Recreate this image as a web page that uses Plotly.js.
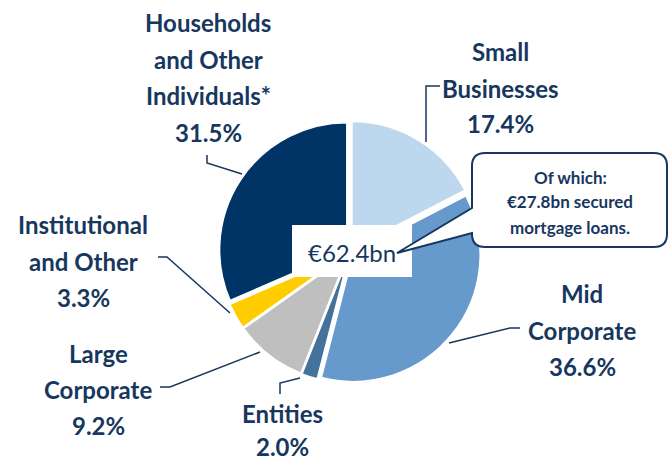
<!DOCTYPE html>
<html>
<head>
<meta charset="utf-8">
<script src="https://cdn.plot.ly/plotly-3.0.1.min.js"></script>
<style>html,body{margin:0;padding:0;background:#fff;}#chart{width:668px;height:464px;}</style>
</head>
<body>
<div id="chart"></div>
<script>
// Data
const categories = ["Small Businesses", "Mid Corporate", "Entities", "Large Corporate", "Institutional and Other", "Households and Other Individuals*"];
const shares = [17.4, 36.6, 2.0, 9.2, 3.3, 31.5];
const labelLines = [
  ["Small", "Businesses", "17.4%"],
  ["Mid", "Corporate", "36.6%"],
  ["Entities", "2.0%"],
  ["Large", "Corporate", "9.2%"],
  ["Institutional", "and Other", "3.3%"],
  ["Households", "and Other", "Individuals*", "31.5%"]
];
const totalLabel = "€62.4bn";
const calloutLines = ["Of which:", "€27.8bn secured", "mortgage loans."];
const colors = ["#BDD7EE", "#6699CC", "#44729A", "#BFBFBF", "#FFCC00", "#003366"];

const W = 668, H = 464;
const px = x => x / W;
const py = y => 1 - y / H;
const navy = "#17375E";
const FONT = "Lato, 'Open Sans', sans-serif";

// pie geometry
const cx = 350, cy = 252, half = 131;
const trace = {
  type: "pie",
  values: shares,
  labels: categories,
  sort: false,
  direction: "clockwise",
  rotation: 0,
  textinfo: "none",
  hoverinfo: "label+percent",
  pull: [0.03, 0.03, 0.03, 0.03, 0.03, 0.03],
  marker: {colors: colors, line: {color: "#ffffff", width: 1.5}},
  domain: {x: [px(cx - half), px(cx + half)], y: [py(cy + half), py(cy - half)]},
  showlegend: false
};

// label positions: centre x and centre y of each line
const labelX = [500, 582, 282, 98, 83, 208];
const labelY = [[51, 88, 124], [293, 330, 366], [413, 446], [353, 389, 425], [224, 261, 297], [22, 59, 96, 132]];
const annotations = [];
labelLines.forEach((lines, i) => {
  lines.forEach((t, j) => {
    annotations.push({
      text: t, x: px(labelX[i]), y: py(labelY[i][j]), xref: "paper", yref: "paper",
      xanchor: "center", yanchor: "middle", showarrow: false, borderpad: 0,
      font: {family: FONT, size: 24, color: navy, weight: 700}
    });
  });
});
annotations.push({
  text: totalLabel, x: px(352), y: py(252), xref: "paper", yref: "paper",
  xanchor: "center", yanchor: "middle", showarrow: false,
  font: {family: FONT, size: 24, color: navy}
});
const calloutY = [178, 202, 227];
calloutLines.forEach((t, j) => annotations.push({
  text: t, x: px(570), y: py(calloutY[j]), xref: "paper", yref: "paper",
  xanchor: "center", yanchor: "middle", showarrow: false,
  font: {family: FONT, size: 17, color: navy, weight: 700}
}));

function path(pts) {
  return "M" + pts.map(p => px(p[0]) + "," + py(p[1])).join(" L");
}
const leaders = [
  [[440, 86], [426, 86], [426, 142]],
  [[520, 328], [510, 328], [449, 343]],
  [[280, 394], [280, 383], [300, 378]],
  [[160, 387], [170, 387], [260, 352]],
  [[158, 257], [167, 257], [230, 313]],
  [[207, 155], [207, 163], [242, 174]]
];
const shapes = leaders.map(l => ({
  type: "path", xref: "paper", yref: "paper", path: path(l),
  line: {color: navy, width: 1.5}
}));
// centre white box
shapes.push({type: "rect", xref: "paper", yref: "paper",
  x0: px(292), x1: px(412), y0: py(277), y1: py(225),
  fillcolor: "#ffffff", line: {width: 0}, layer: "above"});
// callout with rounded corners and pointer
(function () {
  const L = 472, R = 667, T = 153, B = 247, r = 13;
  const f = (x, y) => px(x) + "," + py(y);
  const d = "M" + f(L + r, T) + " L" + f(R - r, T) +
    " Q" + f(R, T) + " " + f(R, T + r) +
    " L" + f(R, B - r) + " Q" + f(R, B) + " " + f(R - r, B) +
    " L" + f(L + r, B) + " Q" + f(L, B) + " " + f(L, B - r) +
    " L" + f(L, 233) + " L" + f(397, 253) + " L" + f(L, 208) +
    " L" + f(L, T + r) + " Q" + f(L, T) + " " + f(L + r, T) + " Z";
  shapes.push({type: "path", xref: "paper", yref: "paper", path: d,
    fillcolor: "#ffffff", line: {color: navy, width: 2}, layer: "above"});
})();

const layout = {
  width: W, height: H,
  margin: {l: 0, r: 0, t: 0, b: 0},
  paper_bgcolor: "#ffffff",
  showlegend: false,
  annotations: annotations,
  shapes: shapes
};
Plotly.newPlot("chart", [trace], layout, {displayModeBar: false, staticPlot: true});
</script>
</body>
</html>
